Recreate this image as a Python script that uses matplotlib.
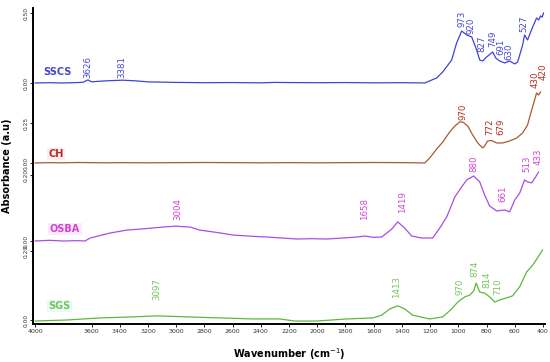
import matplotlib.pyplot as plt

# FTIR spectra (wavenumber cm-1, absorbance a.u.)
sscs_wn = [4000, 3900, 3800, 3700, 3660, 3626, 3600, 3550, 3480, 3381,
           3300, 3200, 3000, 2800, 2600, 2400, 2300, 2200, 2000, 1800,
           1600, 1400, 1300, 1238, 1153, 1110, 1047, 1012, 976, 940,
           905, 870, 848, 827, 799, 756, 735, 707, 671, 636,
           600, 579, 544, 530, 509, 473, 445, 430, 417, 405, 396]
sscs_abs = [0, .002, 0, .003, .005, .022, .008, .012, .016, .02,
            .016, .008, .004, .002, .003, .001, .004, .003, .002, .003,
            .001, .002, .001, 0, .036, .079, .164, .286, .371, .343,
            .329, .236, .164, .157, .186, .221, .179, .157, .143, .157,
            .136, .15, .271, .343, .307, .40, .464, .45, .479, .47, .5]

ch_wn = [4000, 3900, 3800, 3700, 3600, 3500, 3400, 3200, 3000, 2800,
         2600, 2400, 2200, 2000, 1800, 1600, 1400, 1300, 1238, 1203,
         1153, 1110, 1061, 1025, 990, 968, 933, 898, 862, 827,
         813, 792, 764, 728, 686, 636, 586, 544, 509, 480,
         459, 445, 431, 417]
ch_abs = [0, .002, .001, .003, .002, .001, .002, .001, .002, .003,
          .002, .001, .002, .001, .002, .003, .002, .001, 0, .031,
          .088, .131, .194, .231, .256, .256, .231, .175, .125, .094,
          .106, .1375, .14, .125, .125, .1375, .156, .1875, .2375, .331,
          .394, .4375, .425, .444]

osba_wn = [4000, 3900, 3800, 3700, 3646, 3610, 3470, 3350, 3256, 3100,
           3004, 2900, 2832, 2700, 2598, 2450, 2357, 2250, 2145, 2040,
           1932, 1820, 1720, 1663, 1600, 1543, 1472, 1429, 1380, 1330,
           1260, 1181, 1132, 1082, 1025, 976, 940, 891, 848, 813,
           778, 728, 671, 636, 600, 565, 530, 509, 480, 452, 431]
osba_abs = [0, .002, 0, .001, 0, .009, .024, .033, .036, .042,
            .045, .042, .033, .025, .018, .014, .012, .009, .006, .007,
            .006, .009, .012, .015, .011, .012, .036, .058, .039, .015,
            .009, .009, .039, .073, .133, .164, .185, .197, .179, .139,
            .106, .091, .094, .088, .124, .145, .185, .179, .176, .194, .209]

sgs_wn = [4000, 3773, 3540, 3306, 3136, 2924, 2690, 2456, 2265, 2159,
          2003, 1790, 1606, 1543, 1486, 1429, 1380, 1323, 1203, 1110,
          1047, 1004, 955, 919, 891, 874, 848, 813, 778, 742,
          707, 657, 615, 565, 516, 473, 438, 403]
sgs_abs = [-.003, 0, .006, .009, .012, .009, .006, .003, .003, -.003,
           -.003, .003, .006, .014, .032, .041, .032, .014, .003, .009,
           .032, .052, .067, .072, .084, .107, .081, .078, .067, .052,
           .058, .064, .07, .096, .139, .159, .18, .203]

# peak labels
sscs_peaks = ["3626", "3381", "973", "920", "827", "749", "691", "630", "527"]
ch_peaks = ["970", "772", "679", "430", "420"]
osba_peaks = ["3004", "1658", "1419", "880", "661", "513", "433"]
sgs_peaks = ["3097", "1413", "970", "874", "814", "710"]

xticks = [4000, 3600, 3400, 3200, 3000, 2800, 2600, 2400, 2200, 2000,
          1800, 1600, 1400, 1200, 1000, 800, 600, 400]

# layout: stacked offset (axis units) and scale (units per absorbance)
series = [
    dict(name="SSCS", wn=sscs_wn, a=sscs_abs, base=241, scale=140, top=0.50,
         line="#4141dc", text="#4646d2", box=None,
         name_xy=(3945, 252), peaks=sscs_peaks,
         px=[3625, 3384, 972, 912, 834, 756, 700, 643, 537],
         py=[246, 246, 297, 290, 272, 277, 269, 264, 292]),
    dict(name="CH", wn=ch_wn, a=ch_abs, base=161, scale=160, top=0.25,
         line="#a85a32", text="#b52a1e", box="#fdeef3",
         name_xy=(3905, 170), peaks=ch_peaks,
         px=[969, 778, 700, 459, 402],
         py=[204, 189, 189, 236, 244]),
    dict(name="OSBA", wn=osba_wn, a=osba_abs, base=83, scale=330, top=0.20,
         line="#a64ee6", text="#d044d4", box="#fdebf9",
         name_xy=(3895, 95), peaks=osba_peaks,
         px=[2987, 1663, 1394, 891, 686, 516, 431],
         py=[104, 104, 111, 152, 122, 152, 159]),
    dict(name="SGS", wn=sgs_wn, a=sgs_abs, base=4, scale=345, top=0.20,
         line="#5cb83c", text="#74c45a", box="#e9fbf9",
         name_xy=(3905, 18), peaks=sgs_peaks,
         px=[3136, 1436, 990, 884, 799, 721],
         py=[24, 26, 29, 47, 36, 29]),
]

fig = plt.figure(figsize=(5.5, 3.62), dpi=100)
ax = fig.add_axes([0.06, 0.105, 0.931, 0.873])

yt, ytl = [], []
for s in series:
    y = [s["base"] + v * s["scale"] for v in s["a"]]
    ax.plot(s["wn"], y, color=s["line"], lw=0.9)
    bbox = None
    if s["box"]:
        bbox = dict(boxstyle="square,pad=0.15", fc=s["box"], ec="none")
    ax.text(s["name_xy"][0], s["name_xy"][1], s["name"], color=s["text"],
            fontsize=7, fontweight="bold", ha="left", va="center", bbox=bbox)
    for lab, x, yy in zip(s["peaks"], s["px"], s["py"]):
        ax.text(x, yy, lab, color=s["text"], fontsize=6.2, rotation=90,
                ha="center", va="bottom")
    yt += [s["base"], s["base"] + s["top"] * s["scale"]]
    ytl += ["0.00", "%.2f" % s["top"]]

ax.set_xlim(4015, 385)
ax.set_ylim(0, 316)
ax.set_xticks(xticks)
ax.set_xticklabels([str(t) for t in xticks], fontsize=4.5, color="#333333")
ax.set_yticks(yt)
ax.set_yticklabels(ytl, fontsize=4.2, color="#333333", rotation=90, va="center")
ax.tick_params(length=2, width=0.6, pad=1.5)
for sp in ["top", "right"]:
    ax.spines[sp].set_visible(False)
for sp in ["left", "bottom"]:
    ax.spines[sp].set_linewidth(1.4)

ax.set_xlabel("Wavenumber (cm$^{-1}$)", fontsize=7, fontweight="bold", labelpad=9)
ax.set_ylabel("Absorbance (a.u)", fontsize=7, fontweight="bold", labelpad=8)

fig.savefig("out.png", dpi=100)
